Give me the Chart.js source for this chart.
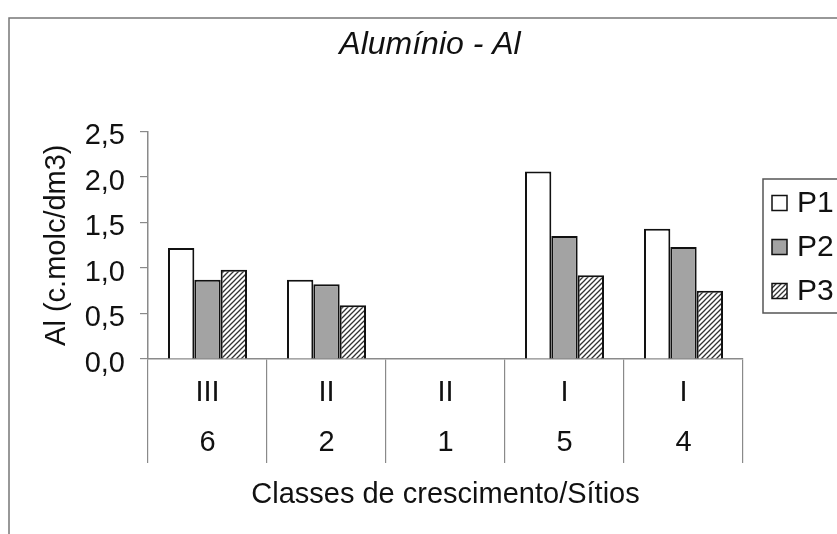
<!DOCTYPE html>
<html>
<head>
<meta charset="utf-8">
<script src="https://cdn.jsdelivr.net/npm/chart.js@4.4.1/dist/chart.umd.min.js"></script>
<style>
  html, body { margin: 0; padding: 0; background: #fff; }
  #wrap { width: 837px; height: 534px; }
</style>
</head>
<body>
<div id="wrap"><canvas id="alChart" width="837" height="534"></canvas></div>
<script>
// categories: classe de crescimento + sítio
const classes = ["III", "II", "II", "I", "I"];
const sitios = ["6", "2", "1", "5", "4"];
const seriesNames = ["P1", "P2", "P3"];

// Al (c.molc/dm3), sítio 1 has no bars
const p1 = [1.22, 0.87, null, 2.06, 1.43];
const p2 = [0.87, 0.82, null, 1.35, 1.23];
const p3 = [0.98, 0.59, null, 0.92, 0.75];

const yTicks = [0, 0.5, 1.0, 1.5, 2.0, 2.5];

const FONT = "'Liberation Sans', Arial, sans-serif";

// diagonal hatch for P3
function makeHatch() {
  const c = document.createElement("canvas");
  c.width = 5;
  c.height = 5;
  const g = c.getContext("2d");
  g.fillStyle = "#fff";
  g.fillRect(0, 0, 5, 5);
  g.strokeStyle = "#333";
  g.lineWidth = 1.3;
  g.beginPath();
  g.moveTo(0, 5); g.lineTo(5, 0);
  g.moveTo(-1, 1); g.lineTo(1, -1);
  g.moveTo(4, 6); g.lineTo(6, 4);
  g.stroke();
  return g.createPattern(c, "repeat");
}

const ctx = document.getElementById("alChart").getContext("2d");
const fills = ["#ffffff", "#a3a3a3", makeHatch()];

// outer frame + legend box
const decor = {
  id: "decor",
  beforeDraw(chart) {
    const c = chart.ctx;
    c.save();
    c.fillStyle = "#fff";
    c.fillRect(0, 0, chart.width, chart.height);
    c.strokeStyle = "#777";
    c.lineWidth = 1.5;
    c.beginPath();
    c.moveTo(9, chart.height);
    c.lineTo(9, 18);
    c.lineTo(chart.width, 18);
    c.stroke();
    c.restore();
  },
  afterDraw(chart) {
    const c = chart.ctx;
    c.save();
    c.strokeStyle = "#555";
    c.lineWidth = 1.5;
    c.beginPath();
    c.moveTo(chart.width, 179);
    c.lineTo(763, 179);
    c.lineTo(763, 313);
    c.lineTo(chart.width, 313);
    c.stroke();
    c.font = "30px " + FONT;
    c.textBaseline = "middle";
    chart.data.datasets.forEach((ds, i) => {
      const cy = 203 + i * 44;
      c.fillStyle = ds.backgroundColor;
      c.fillRect(772, cy - 7.5, 15, 15);
      c.strokeStyle = "#111";
      c.lineWidth = 1.5;
      c.strokeRect(772, cy - 7.5, 15, 15);
      c.fillStyle = "#111";
      c.fillText(ds.label, 797, cy + 1);
    });
    c.restore();
  },
};

const data = {
  labels: classes.map((c, i) => [c, sitios[i]]),
  datasets: [
    { label: seriesNames[0], data: p1, backgroundColor: fills[0] },
    { label: seriesNames[1], data: p2, backgroundColor: fills[1] },
    { label: seriesNames[2], data: p3, backgroundColor: fills[2] },
  ].map((d) => ({
    ...d,
    borderColor: "#111",
    borderWidth: 2,
    borderSkipped: "bottom",
    categoryPercentage: 0.664,
    barPercentage: 1.0,
  })),
};

const config = {
  type: "bar",
  data: data,
  options: {
    responsive: false,
    animation: false,
    layout: { padding: { left: 23, right: 0, top: 0, bottom: 0 } },
    plugins: {
      legend: { display: false },
      tooltip: { enabled: false },
      title: {
        display: true,
        text: "Alumínio - Al",
        color: "#111",
        font: { family: FONT, size: 32, style: "italic", weight: "normal", lineHeight: 1.2 },
        padding: { top: 26, bottom: 67 },
      },
    },
    scales: {
      x: {
        grid: {
          offset: true,
          drawOnChartArea: false,
          tickLength: 104,
          color: "#8a8a8a",
          lineWidth: 1.2,
        },
        border: { display: true, color: "#8a8a8a", width: 1.5 },
        ticks: {
          color: "#111",
          padding: -95,
          maxRotation: 0,
          autoSkip: false,
          font: { family: FONT, size: 29, lineHeight: 1.724 },
        },
        title: {
          display: true,
          text: "Classes de crescimento/Sítios",
          color: "#111",
          font: { family: FONT, size: 29, lineHeight: 1.2 },
          padding: { top: 0, bottom: 22 },
        },
        afterFit(scale) {
          scale.height = 175;
        },
      },
      y: {
        min: 0,
        max: 2.5,
        afterBuildTicks(scale) {
          scale.ticks = yTicks.map((v) => ({ value: v }));
        },
        grid: {
          drawOnChartArea: false,
          tickLength: 8,
          color: "#8a8a8a",
          lineWidth: 1.2,
        },
        border: { display: true, color: "#8a8a8a", width: 1.5 },
        ticks: {
          color: "#111",
          padding: 15,
          labelOffset: 5,
          font: { family: FONT, size: 29 },
          callback: (v) => Number(v).toFixed(1).replace(".", ","),
        },
        title: {
          display: true,
          text: "Al (c.molc/dm3)",
          color: "#111",
          font: { family: FONT, size: 29, lineHeight: 1.2 },
          padding: { top: 17, bottom: 0 },
        },
        afterFit(scale) {
          scale.width = 125;
        },
      },
      spacer: {
        type: "linear",
        position: "right",
        grid: { display: false },
        border: { display: false },
        ticks: { display: false },
        afterFit(scale) {
          scale.width = 94;
        },
      },
    },
  },
  plugins: [decor],
};

const alChart = new Chart(ctx, config);
</script>
</body>
</html>
